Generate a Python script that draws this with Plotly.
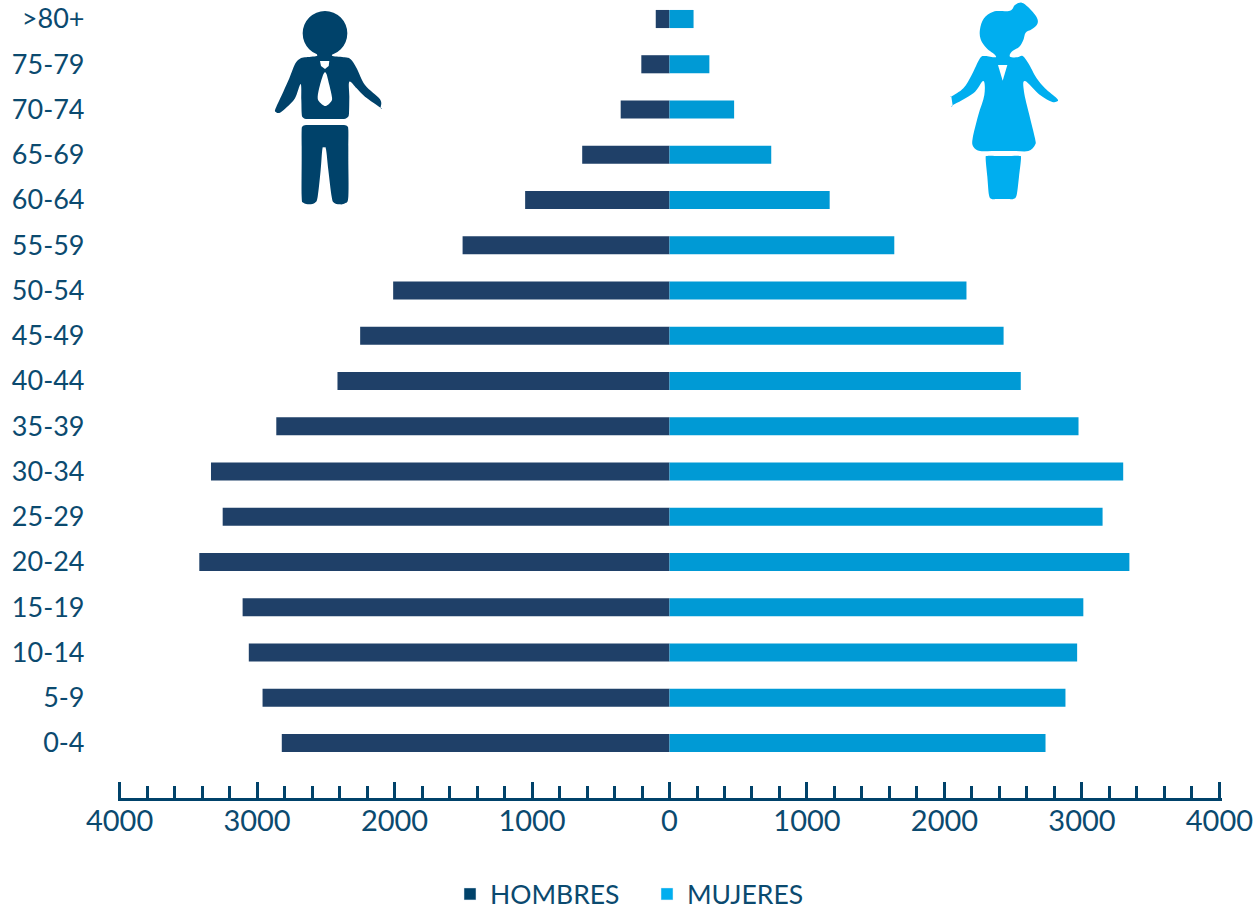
import numpy as np
import plotly.graph_objects as go

age_groups = ["0-4", "5-9", "10-14", "15-19", "20-24", "25-29", "30-34", "35-39", "40-44",
              "45-49", "50-54", "55-59", "60-64", "65-69", "70-74", "75-79", ">80+"]
hombres = [2820, 2960, 3060, 3105, 3420, 3250, 3335, 2860, 2415, 2250, 2010, 1505, 1050, 635, 355, 205, 100]
mujeres = [2735, 2880, 2965, 3010, 3345, 3150, 3300, 2975, 2555, 2430, 2160, 1635, 1165, 740, 470, 290, 175]
x_tick_values = [-4000, -3000, -2000, -1000, 0, 1000, 2000, 3000, 4000]
x_tick_labels = ["4000", "3000", "2000", "1000", "0", "1000", "2000", "3000", "4000"]

W, H = 1257, 910
DARK = "#00426a"
LIGHT = "#00aeef"
BAR_DARK = "#1f4068"
BAR_LIGHT = "#009ad5"
TEXT = "#0b4a6f"
FONT = "Lato, 'Open Sans', sans-serif"


def to_paper(x, y, ox, oy):
    """Crop (3x) coordinates to paper fractions."""
    return (ox + x / 3) / W, 1 - (oy + y / 3) / H


def smooth(pts, ox, oy):
    """Closed Catmull-Rom outline."""
    p = [to_paper(x, y, ox, oy) for x, y in pts]
    n = len(p)
    d = f"M{p[0][0]:.5f},{p[0][1]:.5f}"
    for i in range(n):
        p0, p1, p2, p3 = p[i - 1], p[i], p[(i + 1) % n], p[(i + 2) % n]
        c1 = (p1[0] + (p2[0] - p0[0]) / 6, p1[1] + (p2[1] - p0[1]) / 6)
        c2 = (p2[0] - (p3[0] - p1[0]) / 6, p2[1] - (p3[1] - p1[1]) / 6)
        d += f"C{c1[0]:.5f},{c1[1]:.5f} {c2[0]:.5f},{c2[1]:.5f} {p2[0]:.5f},{p2[1]:.5f}"
    return d + "Z"


def poly(pts, ox, oy):
    p = [to_paper(x, y, ox, oy) for x, y in pts]
    return "M" + "L".join(f"{x:.5f},{y:.5f}" for x, y in p) + "Z"


def shape(path, color):
    return dict(type="path", path=path, xref="paper", yref="paper", fillcolor=color,
                line=dict(width=0), layer="above")


man_body = [(203, 160), (200, 168), (165, 172), (150, 176), (135, 192), (118, 235), (100, 275), (77, 325), (77, 336),
            (90, 338), (110, 322), (135, 295), (152, 252), (154, 300), (155, 340), (158, 352), (168, 357), (195, 357),
            (225, 357), (255, 357), (282, 357), (293, 352), (297, 340), (298, 290), (298, 245), (320, 265), (345, 290),
            (392, 323), (392, 323), (390, 298), (345, 255), (320, 205), (302, 178), (285, 172), (248, 168), (245, 160)]
man_collar = [(210, 183), (238, 183), (236, 198), (225, 207), (213, 198)]
man_tie = [(221, 221), (229, 221), (238, 255), (246, 292), (243, 305), (226, 318), (208, 305), (203, 290), (210, 255)]
man_legs = [(155, 390), (158, 379), (168, 375), (195, 375), (225, 375), (255, 375), (282, 375), (292, 379), (295, 390),
            (295, 440), (295, 480), (295, 590), (285, 610), (268, 613), (252, 608),
            (245, 590), (235, 510), (228, 448), (222, 443), (217, 448), (212, 510), (203, 590), (195, 608), (178, 613),
            (160, 608), (155, 590), (155, 480), (155, 440)]

woman_body = [(195, 165), (170, 145), (152, 118), (150, 88), (162, 55), (190, 35), (240, 32), (255, 15), (275, 8),
              (295, 22), (320, 52), (322, 72), (305, 88), (287, 98), (280, 120), (268, 140), (245, 155), (240, 170),
              (262, 172), (278, 168), (295, 190), (320, 235), (345, 265), (380, 295), (382, 304), (365, 305), (330, 285),
              (285, 243), (282, 275), (298, 345), (315, 415), (315, 435), (295, 453), (255, 453), (220, 453), (185, 453),
              (150, 453), (130, 440), (128, 415), (145, 345), (163, 285), (160, 243), (130, 280), (68, 316), (68, 316),
              (64, 290), (64, 290), (100, 265), (125, 225), (150, 175), (165, 168), (195, 172)]
woman_collar = [(204, 195), (232, 195), (218, 242)]
woman_skirt = [(167, 475), (172, 468), (195, 468), (220, 468), (245, 468), (268, 468), (273, 475), (267, 530), (260, 585),
               (250, 597), (235, 597), (200, 597), (185, 597), (177, 585), (172, 530)]

head_x0, head_y0 = to_paper(158, 33, 250, 0)
head_x1, head_y1 = to_paper(292, 167, 250, 0)
shapes = [
    dict(type="circle", xref="paper", yref="paper", x0=head_x0, x1=head_x1, y0=head_y0, y1=head_y1,
         fillcolor=DARK, line=dict(width=0), layer="above"),
    shape(smooth(man_body, 250, 0), DARK),
    shape(poly(man_collar, 250, 0), "white"),
    shape(smooth(man_tie, 250, 0), "white"),
    shape(smooth(man_legs, 250, 0), DARK),
    shape(smooth(woman_body, 930, 0), LIGHT),
    shape(poly(woman_collar, 930, 0), "white"),
    shape(smooth(woman_skirt, 930, 0), LIGHT),
]

fig = go.Figure()
fig.add_bar(y=age_groups, x=-np.array(hombres), orientation="h", marker=dict(color=BAR_DARK, line_width=0),
            width=0.4, name="HOMBRES", showlegend=False)
fig.add_bar(y=age_groups, x=mujeres, orientation="h", marker=dict(color=BAR_LIGHT, line_width=0),
            width=0.4, name="MUJERES", showlegend=False)
fig.add_bar(y=[None], x=[None], orientation="h", marker=dict(color=DARK), name="HOMBRES")
fig.add_bar(y=[None], x=[None], orientation="h", marker=dict(color=LIGHT), name="MUJERES")

fig.update_layout(
    width=W, height=H, autosize=False,
    margin=dict(l=0, r=0, t=0, b=0, autoexpand=False),
    paper_bgcolor="white", plot_bgcolor="white",
    barmode="overlay",
    font=dict(family=FONT, size=27, color=TEXT),
    xaxis=dict(domain=[117.5 / W, 1221.5 / W], range=[-4015, 4015], tickvals=x_tick_values, ticktext=x_tick_labels,
               ticks="inside", ticklen=16, tickwidth=3, tickcolor=DARK, showline=True, linecolor=DARK, linewidth=3,
               showgrid=False, zeroline=False, tickangle=0, ticklabelstandoff=-4, automargin=False,
               tickfont=dict(size=29, color=TEXT),
               minor=dict(dtick=200, tick0=0, ticks="inside", ticklen=12, tickwidth=2.5, tickcolor=DARK,
                          showgrid=False)),
    yaxis=dict(domain=[112.5 / H, 1], range=[-1.204, 16.42], type="category", categoryorder="array",
               categoryarray=age_groups, showline=False, showgrid=False, zeroline=False, ticks="",
               ticklabelstandoff=32, automargin=False, tickfont=dict(size=27, color=TEXT)),
    shapes=shapes,
    legend=dict(orientation="h", x=450 / W, xanchor="left", y=-0.009, yanchor="bottom", traceorder="normal",
                font=dict(size=26.5, color=TEXT), itemwidth=30, entrywidth=152, entrywidthmode="pixels",
                bgcolor="rgba(0,0,0,0)"),
)

fig.write_html("out.html", config={"displayModeBar": False},
               post_script="document.body.style.margin='0';document.documentElement.style.overflow='hidden';")
